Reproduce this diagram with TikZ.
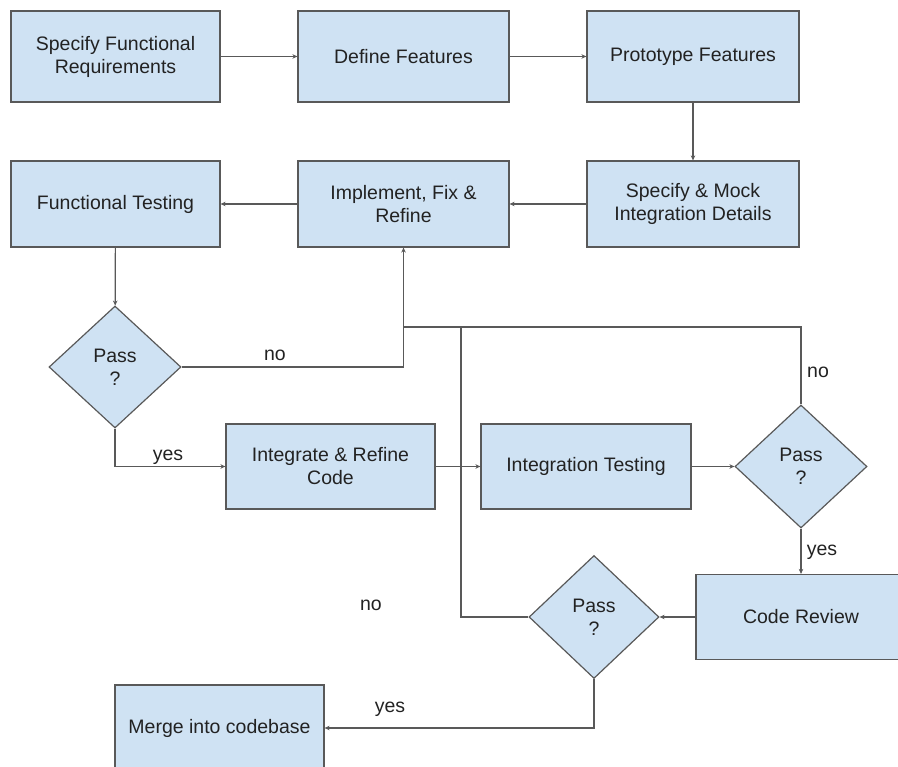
\documentclass[tikz,border=0pt]{standalone}
\usepackage{fontspec}
\setmainfont{Liberation Sans}
\usetikzlibrary{shapes.geometric,arrows.meta}
\definecolor{boxfill}{HTML}{CFE2F3}
\definecolor{boxline}{HTML}{595959}
\definecolor{txt}{HTML}{222222}
\begin{document}
\begin{tikzpicture}[x=1pt,y=-1pt,
  font=\fontsize{19.5}{23}\selectfont, text=txt,
  box/.style={rectangle, draw=boxline, fill=boxfill, line width=1.2pt, align=center, inner sep=0pt},
  dec/.style={diamond, draw=boxline, fill=boxfill, line width=1.2pt, align=center, inner sep=0pt, minimum width=132pt, minimum height=122pt},
  conn/.style={draw=boxline, line width=1.2pt},
  arr/.style={conn, -{Stealth[length=5pt,width=4.5pt]}},
  lbl/.style={inner sep=0pt}]
\path[use as bounding box] (0,0) rectangle (898,767);
\clip (0,0) rectangle (898,767);

\node[box, minimum width=209pt, minimum height=91pt] (sfr) at (115.5,56.5) {Specify Functional\\Requirements};
\node[box, minimum width=211pt, minimum height=91pt] (df) at (403.5,56.5) {Define Features};
\node[box, minimum width=212pt, minimum height=91pt] (pf) at (693,56.5) {Prototype Features};
\node[box, minimum width=212pt, minimum height=86pt] (smi) at (693,204) {Specify \& Mock\\Integration Details};
\node[box, minimum width=211pt, minimum height=86pt] (ifr) at (403.5,204) {Implement, Fix \&\\Refine};
\node[box, minimum width=209pt, minimum height=86pt] (ft) at (115.5,204) {Functional Testing};
\node[dec] (p1) at (115,367) {Pass\\?};
\node[box, minimum width=209pt, minimum height=85pt] (irc) at (330.5,466.5) {Integrate \& Refine\\Code};
\node[box, minimum width=210pt, minimum height=85pt] (it) at (586,466.5) {Integration Testing};
\node[dec, minimum height=123pt] (p2) at (801,466.5) {Pass\\?};
\node[box, minimum width=210pt, minimum height=85pt] (cr) at (801,617) {Code Review};
\node[dec, minimum width=130pt, minimum height=123pt] (p3) at (594,617) {Pass\\?};
\node[box, minimum width=209pt, minimum height=86pt] (mc) at (219.5,728) {Merge into codebase};

\coordinate (j1) at (403.5,327);
\coordinate (j2) at (461,327);

\draw[arr] (sfr) -- (df);
\draw[arr] (df) -- (pf);
\draw[arr] (pf) -- (smi);
\draw[arr] (smi) -- (ifr);
\draw[arr] (ifr) -- (ft);
\draw[arr] (ft) -- (p1);
\draw[arr] (p1.east) -| (ifr.south);
\draw[conn] (p2.north) |- (j1);
\draw[conn] (p3.west) -| (j2);
\draw[arr] (p1.south) |- (irc.west);
\draw[arr] (irc) -- (it);
\draw[arr] (it) -- (p2);
\draw[arr] (p2) -- (cr);
\draw[arr] (cr) -- (p3);
\draw[arr] (p3.south) |- (mc.east);

\node[lbl] (no1) at (275,355) {no};
\node[lbl] (no2) at (818,372) {no};
\node[lbl] (no3) at (371,605) {no};
\node[lbl] (yes1) at (168,457) {yes};
\node[lbl] (yes2) at (822,552) {yes};
\node[lbl] (yes3) at (390,709) {yes};
\end{tikzpicture}
\end{document}
